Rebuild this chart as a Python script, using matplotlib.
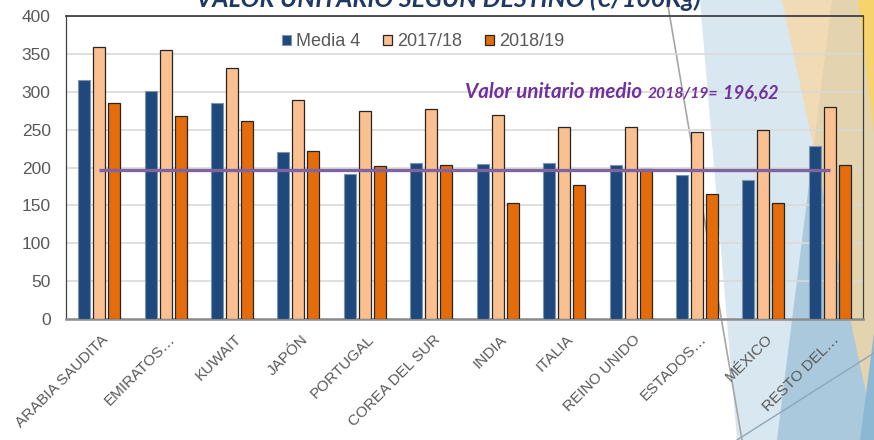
import matplotlib
matplotlib.use("Agg")
import matplotlib.pyplot as plt
import matplotlib.transforms as mtransforms
from matplotlib.patches import Polygon
from matplotlib.lines import Line2D
import numpy as np

# ---------------- data ----------------
categories = ["ARABIA SAUDITA", "EMIRATOS…", "KUWAIT", "JAPÓN", "PORTUGAL",
              "COREA DEL SUR", "INDIA", "ITALIA", "REINO UNIDO", "ESTADOS…",
              "MÉXICO", "RESTO DEL…"]
media4 = [315, 301, 285, 221, 191, 206, 205, 206, 203, 190, 184, 229]
v2017_18 = [359, 355, 331, 289, 274, 277, 269, 254, 253, 247, 249, 280]
v2018_19 = [285, 268, 262, 222, 202, 203, 153, 177, 198, 165, 153, 203]
series_names = ["Media 4", "2017/18", "2018/19"]
avg_value = 196.62
avg_label = ("Valor unitario medio", "2018/19=", " 196,62")
title = "VALOR UNITARIO SEGÚN DESTINO (€/100Kg)"
yticks = [0, 50, 100, 150, 200, 250, 300, 350, 400]

# ---------------- figure ----------------
W, H = 874, 440
fig = plt.figure(figsize=(W / 100, H / 100), dpi=100)


def P(x, y):
    return (x / W, 1 - y / H)


def poly(pts, color, alpha=1.0, z=-5):
    fig.add_artist(Polygon([P(*p) for p in pts], closed=True, transform=fig.transFigure,
                           facecolor=color, edgecolor="none", alpha=alpha, zorder=z))


# background decoration
poly([(700, 0), (874, 0), (874, 440), (737, 440)], "#D9E7F0", z=-9)
poly([(832, 0), (874, 0), (874, 440), (777, 440)], "#ABC9DD", z=-8)
poly([(782, 0), (874, 0), (874, 430)], "#F8D7A0", alpha=0.75, z=-7)
poly([(858, 0), (874, 0), (874, 133)], "#F6D36B", z=-6)
poly([(874, 333), (874, 440), (860, 440)], "#8DB8D3", z=-6)
fig.add_artist(Line2D([667 / W, 742 / W], [1, 0], transform=fig.transFigure,
                      color="#A6A6A6", lw=1.2, zorder=-5))
fig.add_artist(Line2D([737 / W, 874 / W], [0, 1 - 353 / H], transform=fig.transFigure,
                      color="#8FA6B8", lw=1.0, zorder=-5))

ax = fig.add_axes([66 / W, 1 - 319 / H, 797 / W, 303 / H])
ax.set_zorder(1)
ax.patch.set_facecolor("none")

x = np.arange(len(categories))
bw = 0.18
off = 0.226
ax.bar(x - off, media4, bw, color="#1F497D", edgecolor="#7F95AE", lw=0.8,
       label=series_names[0], zorder=3)
ax.bar(x, v2017_18, bw, color="#FAC090", edgecolor="#262626", lw=0.9,
       label=series_names[1], zorder=3)
ax.bar(x + off, v2018_19, bw, color="#E46C0A", edgecolor="#262626", lw=0.9,
       label=series_names[2], zorder=3)
ax.plot([x[0], x[-1]], [avg_value, avg_value], color="#8064A2", lw=2.4,
        solid_capstyle="butt", zorder=4)

ax.set_xlim(-0.5, len(categories) - 0.5)
ax.set_ylim(0, 400)
ax.set_yticks(yticks)
ax.yaxis.grid(True, color="#D9D9D9", lw=1.2)
ax.set_axisbelow(True)
for s in ["left", "top", "right"]:
    ax.spines[s].set_color("#404040")
    ax.spines[s].set_linewidth(0.9)
ax.spines["top"].set_linewidth(1.3)
ax.spines["bottom"].set_color("#8C8C8C")
ax.spines["bottom"].set_linewidth(1.8)

ax.tick_params(axis="y", length=0, pad=11, labelsize=12.5, labelcolor="#595959")
ax.tick_params(axis="x", length=0, pad=13, labelsize=11, labelcolor="#595959")
for lab in ax.get_yticklabels():
    lab.set_fontfamily("Liberation Sans")
ax.set_xticks(x)
ax.set_xticklabels(categories, rotation=45, ha="right", va="center",
                   rotation_mode="anchor", fontfamily="Liberation Sans")
shift = mtransforms.ScaledTranslation(7 / 100, 0, fig.dpi_scale_trans)
for lab in ax.get_xticklabels():
    lab.set_transform(lab.get_transform() + shift)

leg = ax.legend(ncol=3, loc="center left", bbox_to_anchor=(282 / W, 1 - 42 / H),
                bbox_transform=fig.transFigure, frameon=False,
                prop={"family": "Liberation Sans", "size": 13},
                handlelength=0.5, handleheight=0.5, handletextpad=0.25,
                columnspacing=1.3, borderpad=0, borderaxespad=0)
for t in leg.get_texts():
    t.set_color("#595959")

# texts sized to fit
fig.canvas.draw()
r = fig.canvas.get_renderer()


def fit_text(s, x0, x1, ybase, color, **kw):
    t = fig.text(x0 / W, 1 - ybase / H, s, va="baseline", ha="left", color=color,
                 fontsize=10, **kw)
    w = t.get_window_extent(r).width
    t.set_fontsize(10 * (x1 - x0) / w)
    return t


fit_text(title, 196, 700, 7, "#1F3864", family="Lato", weight="bold", style="italic")
fit_text(avg_label[0], 465, 642, 98, "#7030A0", family="Lato", weight="bold", style="italic")
fit_text(avg_label[1], 648, 718, 98, "#7030A0", family="Lato", weight="bold", style="italic")
fit_text(avg_label[2], 719, 778, 98, "#7030A0", family="Lato", weight="bold", style="italic")

fig.savefig("out.png", dpi=100)
